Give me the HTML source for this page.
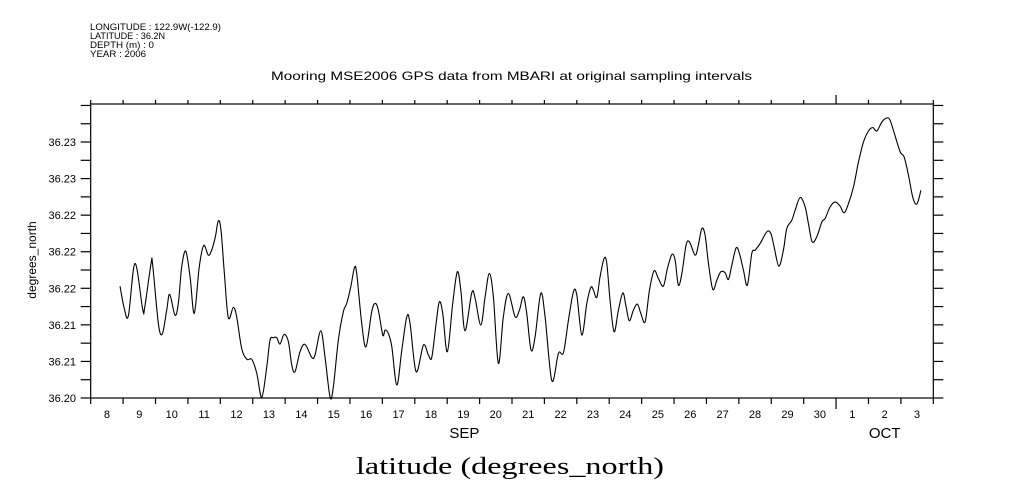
<!DOCTYPE html>
<html><head><meta charset="utf-8"><style>
html,body{margin:0;padding:0;background:#fff;}
svg{display:block;}
text{font-family:"Liberation Sans",sans-serif;fill:#000;}
</style></head><body>
<svg id="chart" width="1009" height="504" viewBox="0 0 1009 504" xmlns="http://www.w3.org/2000/svg">
<g font-size="9">
<text x="90" y="30" textLength="131" lengthAdjust="spacingAndGlyphs">LONGITUDE : 122.9W(-122.9)</text>
<text x="90" y="39" textLength="75" lengthAdjust="spacingAndGlyphs">LATITUDE : 36.2N</text>
<text x="90" y="48" textLength="64" lengthAdjust="spacingAndGlyphs">DEPTH (m) : 0</text>
<text x="90" y="57" textLength="56" lengthAdjust="spacingAndGlyphs">YEAR : 2006</text>
</g>
<text x="271" y="80" font-size="12" textLength="481" lengthAdjust="spacingAndGlyphs">Mooring MSE2006 GPS data from MBARI at original sampling intervals</text>
<text transform="translate(36,260) rotate(-90)" text-anchor="middle" font-size="12">degrees_north</text>
<text x="356" y="474" style="font-family:'Liberation Serif',serif" font-size="24" textLength="308" lengthAdjust="spacingAndGlyphs">latitude (degrees_north)</text>
<g id="axes"></g>
<path id="series" fill="none" stroke="#000" stroke-width="1.1"/>
</svg>
<script>
// hours since Sep 8 00:00
const hours = [21.7,24.7,27.9,32.8,38.5,40.0,44.7,45.9,50.1,53.0,56.3,58.5,62.4,64.9,67.4,70.4,73.6,76.7,80.4,83.7,87.1,89.6,92.3,94.5,96.5,99.0,101.9,105.6,108.1,111.8,115.6,119.3,123.0,126.7,130.4,132.8,135.3,137.8,140.2,143.2,146.4,148.9,151.3,155.0,158.7,163.7,166.1,170.4,173.5,177.3,179.7,183.4,187.1,189.6,192.6,195.3,197.0,200.7,203.9,208.1,210.6,213.0,216.3,218.0,220.4,223.0,226.7,230.4,234.1,236.5,241.0,246.4,250.1,252.6,255.8,258.2,260.7,264.1,268.1,271.5,274.1,277.2,282.2,284.7,288.9,292.1,295.2,298.2,301.9,305.6,309.3,314.3,317.5,320.4,322.9,326.1,329.1,333.3,336.5,341.5,346.4,350.1,353.8,357.5,360.0,363.7,367.4,370.4,372.3,374.8,377.2,380.2,382.2,384.6,387.6,390.8,394.1,396.5,398.9,401.9,404.9,407.4,410.6,413.8,417.2,420.4,424.1,427.1,430.4,432.8,435.2,437.8,440.9,443.4,447.6,450.0,452.6,455.0,457.5,460.7,463.7,466.6,469.8,472.3,474.8,478.0,480.4,483.4,486.3,489.6,492.1,495.8,500.7,503.7,506.1,509.6,513.0,515.5,519.2,521.7,525.4,529.1,531.5,534.3,537.7,541.5,543.9,547.6,551.3,555.0,558.0,561.2,564.9,568.6,572.3,576.0,579.2,582.2,585.9,589.6,592.0,595.2,599.5,602.4,605.6,608.6,611.1,613.0,614.8];
const lat = [36.2153,36.21239,36.21124,36.2184,36.21212,36.21239,36.2184,36.21817,36.2102,36.20874,36.21202,36.21417,36.21134,36.21294,36.21794,36.22008,36.21657,36.21157,36.21794,36.22086,36.21953,36.22022,36.22203,36.22422,36.22295,36.21703,36.21097,36.21239,36.21111,36.20679,36.20529,36.20529,36.20337,36.2001,36.20428,36.20792,36.20824,36.20824,36.20738,36.2087,36.20769,36.20451,36.20359,36.20632,36.20734,36.20556,36.20587,36.20919,36.20564,36.2001,36.20154,36.20792,36.21179,36.21294,36.2152,36.2178,36.21703,36.2102,36.20701,36.21179,36.21294,36.21202,36.20861,36.20929,36.20884,36.20701,36.20178,36.20656,36.21111,36.2102,36.20359,36.20724,36.20587,36.20556,36.2102,36.21315,36.21157,36.20632,36.21294,36.21725,36.21475,36.20919,36.21438,36.21362,36.20997,36.21384,36.21703,36.21384,36.20474,36.21111,36.2143,36.21111,36.21202,36.21384,36.21157,36.20656,36.20837,36.2143,36.21111,36.20236,36.20611,36.20619,36.21065,36.21452,36.21407,36.20861,36.21294,36.21512,36.21475,36.21376,36.21657,36.21908,36.2184,36.21339,36.20906,36.21202,36.21438,36.21247,36.21056,36.21202,36.21284,36.21157,36.21042,36.21475,36.21739,36.21635,36.2153,36.21772,36.21963,36.21885,36.21544,36.21703,36.2209,36.22135,36.21953,36.2209,36.22318,36.22227,36.2184,36.21485,36.21612,36.21725,36.21712,36.21621,36.21817,36.22053,36.21977,36.21748,36.21544,36.21977,36.22022,36.22113,36.22272,36.2225,36.22067,36.21803,36.22022,36.22318,36.22431,36.22568,36.22742,36.22613,36.22386,36.22135,36.22203,36.22408,36.22455,36.22613,36.22681,36.22623,36.22531,36.2266,36.22886,36.23228,36.23501,36.23651,36.23698,36.23651,36.23774,36.23829,36.23797,36.23616,36.23364,36.23296,36.23046,36.22759,36.2265,36.22705,36.22841];
const dayLabels = ["8","9","10","11","12","13","14","15","16","17","18","19","20","21","22","23","24","25","26","27","28","29","30","1","2","3"];
const yTickValues = [36.200,36.205,36.210,36.215,36.220,36.225,36.230,36.235];
const yTickLabels = ["36.20","36.21","36.21","36.22","36.22","36.22","36.23","36.23"];

const L=90.7,R=933.3,T=104,B=398;
const totalHours=26*24, yMin=36.2, yMax=36.2402;
function xs(h){return L+(h/totalHours)*(R-L);}
function ys(v){return B-(v-yMin)/(yMax-yMin)*(B-T);}
const NS="http://www.w3.org/2000/svg";
const ax=document.getElementById('axes');
function mk(tag,attrs,parent){const e=document.createElementNS(NS,tag);for(const k in attrs)e.setAttribute(k,attrs[k]);(parent||ax).appendChild(e);return e;}
function line(x1,y1,x2,y2){return mk('line',{x1:x1,y1:y1,x2:x2,y2:y2,stroke:'#000','stroke-width':1.2});}

const frame=mk('rect',{x:L,y:T,width:R-L,height:B-T,fill:'none',stroke:'#000','stroke-width':1.2});



for(let d=0;d<=26;d++){
  const x=xs(d*24);
  const big=(d===23);
  const t1=line(x,B,x,big?B+11:B+6);
  
  
  const t2=line(x,T,x,big?T-9:T-4);
  
  
}
dayLabels.forEach((lab,i)=>{
  const t=mk('text',{x:xs(i*24+12),y:418,'text-anchor':'middle','font-size':11});
  t.textContent=lab;
  
  
});
const sep=mk('text',{x:xs(11*24+12)+1,y:438,'text-anchor':'middle','font-size':15});
sep.textContent='SEP';


const oct=mk('text',{x:xs(24*24+12),y:438,'text-anchor':'middle','font-size':15});
oct.textContent='OCT';



for(let k=0;k<=16;k++){
  const v=yMin+k*0.0025;
  const y=ys(v);
  const a=line(L-10,y,L,y);
  
  
  const b=line(R,y,R+10,y);
  
  
}
yTickValues.forEach((v,i)=>{
  const t=mk('text',{x:76,y:ys(v)+4,'text-anchor':'end','font-size':11});
  t.textContent=yTickLabels[i];
  
  
});

// smooth Catmull-Rom curve through the points
const P=hours.map((h,i)=>[xs(h),ys(lat[i])]);
let d='M'+P[0][0].toFixed(2)+','+P[0][1].toFixed(2);
for(let i=0;i<P.length-1;i++){
  const p0=P[i-1]||P[i],p1=P[i],p2=P[i+1],p3=P[i+2]||P[i+1];
  const c1x=p1[0]+(p2[0]-p0[0])/6,c1y=p1[1]+(p2[1]-p0[1])/6;
  const c2x=p2[0]-(p3[0]-p1[0])/6,c2y=p2[1]-(p3[1]-p1[1])/6;
  d+='C'+c1x.toFixed(2)+','+c1y.toFixed(2)+' '+c2x.toFixed(2)+','+c2y.toFixed(2)+' '+p2[0].toFixed(2)+','+p2[1].toFixed(2);
}
document.getElementById('series').setAttribute('d',d);
</script>
</body></html>
